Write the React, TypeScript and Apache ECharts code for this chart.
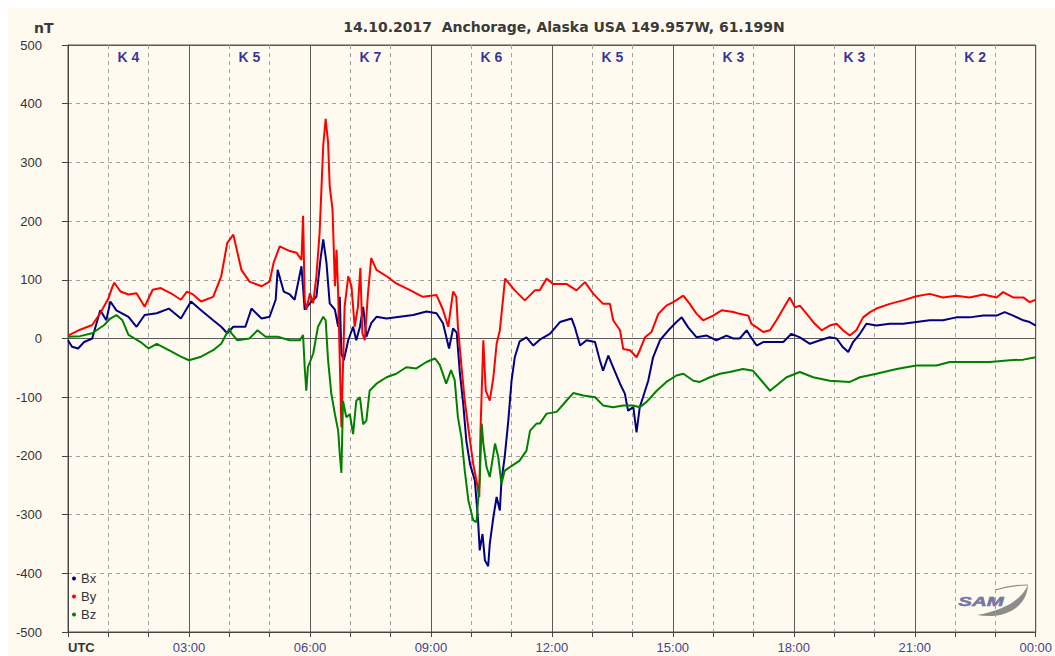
import React, { useEffect, useRef } from 'react';
import * as echarts from 'echarts';

const title = '14.10.2017  Anchorage, Alaska USA 149.957W, 61.199N';
const kHours = [1.5, 4.5, 7.5, 10.5, 13.5, 16.5, 19.5, 22.5];
const kIndex = [4, 5, 7, 6, 5, 3, 3, 2];
const xTickLabels: Record<number, string> = {
  0: 'UTC', 3: '03:00', 6: '06:00', 9: '09:00', 12: '12:00', 15: '15:00', 18: '18:00', 21: '21:00', 24: '00:00',
};

// [hour UTC, nT]
const bx: [number, number][] = [
  [0, -3], [0.1, -14], [0.25, -17], [0.4, -6], [0.6, 0], [0.8, 48], [0.95, 31], [1.05, 63], [1.2, 48],
  [1.5, 37], [1.7, 20], [1.9, 40], [2.2, 43], [2.5, 51], [2.8, 34], [3.05, 63], [3.3, 48], [3.6, 31],
  [3.8, 20], [3.95, 9], [4.1, 20], [4.4, 20], [4.55, 51], [4.8, 34], [5.0, 37], [5.15, 66], [5.2, 117],
  [5.35, 80], [5.5, 75], [5.62, 66], [5.79, 123], [5.87, 49], [6.0, 60], [6.16, 71], [6.26, 134],
  [6.33, 169], [6.41, 129], [6.49, 60], [6.62, 49], [6.7, 20], [6.74, 71], [6.78, -26], [6.84, -37],
  [6.95, -3], [7.07, 20], [7.15, -3], [7.24, 20], [7.32, 54], [7.4, 3], [7.52, 26], [7.65, 37],
  [7.9, 34], [8.23, 37], [8.56, 40], [8.89, 46], [9.14, 43], [9.3, 26], [9.45, -17], [9.55, 17],
  [9.64, 10], [9.72, -60], [9.8, -110], [9.88, -175], [9.97, -214], [10.09, -242], [10.17, -310],
  [10.21, -361], [10.28, -333], [10.34, -378], [10.42, -388], [10.46, -350], [10.55, -304],
  [10.63, -270], [10.71, -293], [10.75, -242], [10.83, -202], [10.92, -140], [11.0, -72], [11.08, -32],
  [11.2, -5], [11.37, 2], [11.54, -12], [11.7, -2], [11.95, 8], [12.2, 28], [12.49, 34], [12.57, 19],
  [12.7, -12], [12.86, -3], [13.07, -6], [13.19, -37], [13.27, -55], [13.4, -29], [13.52, -49],
  [13.69, -77], [13.81, -94], [13.89, -123], [14.02, -117], [14.1, -160], [14.18, -117], [14.26, -100],
  [14.39, -72], [14.51, -32], [14.68, -3], [14.89, 14], [15.09, 28], [15.22, 36], [15.38, 19],
  [15.59, 2], [15.84, 5], [16.08, -3], [16.33, 5], [16.5, 0], [16.66, 0], [16.83, 14], [16.91, 5],
  [17.08, -12], [17.24, -6], [17.49, -6], [17.74, -6], [17.94, 8], [18.15, 2], [18.4, -9], [18.65, -3],
  [18.89, 2], [19.06, 0], [19.22, -15], [19.35, -23], [19.47, -6], [19.64, 8], [19.8, 25], [20.05, 22],
  [20.38, 25], [20.71, 25], [21.04, 28], [21.37, 31], [21.7, 31], [22.03, 36], [22.36, 36], [22.7, 39],
  [23.03, 39], [23.23, 45], [23.44, 39], [23.69, 31], [23.85, 28], [24, 22],
];

const by: [number, number][] = [
  [0, 5], [0.3, 15], [0.6, 23], [0.8, 43], [1.0, 68], [1.1, 88], [1.15, 95], [1.3, 80], [1.5, 75],
  [1.7, 77], [1.9, 54], [2.1, 83], [2.3, 86], [2.6, 75], [2.8, 66], [2.95, 80], [3.1, 75], [3.3, 63],
  [3.6, 71], [3.8, 106], [3.95, 163], [4.1, 177], [4.3, 117], [4.5, 97], [4.8, 89], [5.0, 97],
  [5.1, 129], [5.25, 157], [5.5, 149], [5.67, 146], [5.79, 134], [5.83, 209], [5.87, 66], [5.91, 49],
  [6.0, 77], [6.08, 60], [6.16, 106], [6.24, 180], [6.33, 329], [6.39, 374], [6.45, 334], [6.49, 260],
  [6.56, 220], [6.62, 89], [6.66, 151], [6.7, 77], [6.74, -37], [6.78, -151], [6.86, 54], [6.95, 106],
  [7.03, 89], [7.11, 20], [7.19, 54], [7.25, 120], [7.3, 9], [7.36, -3], [7.44, 77], [7.52, 137],
  [7.65, 117], [7.9, 106], [8.14, 94], [8.47, 83], [8.8, 71], [9.14, 74], [9.3, 49], [9.43, 20],
  [9.55, 80], [9.63, 71], [9.67, 20], [9.76, -49], [9.84, -106], [9.97, -174], [10.05, -214],
  [10.13, -242], [10.2, -270], [10.23, -157], [10.3, -3], [10.36, -89], [10.46, -106], [10.55, -66],
  [10.63, -9], [10.71, 14], [10.84, 102], [11.08, 82], [11.33, 65], [11.58, 82], [11.7, 82],
  [11.87, 102], [12.03, 93], [12.36, 93], [12.61, 82], [12.82, 96], [13.03, 76], [13.27, 59],
  [13.44, 59], [13.52, 31], [13.69, 14], [13.77, -18], [13.94, -20], [14.1, -32], [14.18, -20],
  [14.31, 2], [14.47, 11], [14.64, 42], [14.84, 56], [15.01, 62], [15.26, 73], [15.42, 59], [15.59, 42],
  [15.75, 31], [16.0, 39], [16.21, 48], [16.5, 45], [16.66, 42], [16.87, 39], [16.95, 25], [17.08, 19],
  [17.24, 11], [17.41, 14], [17.57, 31], [17.74, 51], [17.9, 70], [18.03, 53], [18.15, 56], [18.32, 42],
  [18.52, 25], [18.69, 14], [18.89, 22], [19.06, 25], [19.22, 14], [19.39, 5], [19.55, 14], [19.72, 36],
  [19.89, 45], [20.05, 51], [20.38, 59], [20.71, 65], [21.04, 72], [21.37, 76], [21.7, 70], [22.03, 73],
  [22.36, 70], [22.7, 75], [23.03, 70], [23.19, 79], [23.44, 70], [23.69, 70], [23.85, 62], [24, 66],
];

const bz: [number, number][] = [
  [0, 3], [0.3, 4], [0.6, 9], [0.9, 23], [1.05, 34], [1.2, 40], [1.35, 31], [1.5, 6], [1.8, -6],
  [2.0, -17], [2.2, -9], [2.5, -20], [2.8, -31], [3.0, -37], [3.3, -31], [3.6, -20], [3.8, -9],
  [4.0, 17], [4.05, 9], [4.2, -3], [4.5, 0], [4.7, 14], [4.9, 3], [5.2, 3], [5.5, -3], [5.75, -3],
  [5.83, 6], [5.87, -49], [5.91, -89], [5.95, -49], [6.08, -26], [6.2, 20], [6.33, 37], [6.39, 31],
  [6.45, -37], [6.53, -94], [6.62, -129], [6.7, -157], [6.74, -197], [6.78, -229], [6.82, -106],
  [6.9, -134], [6.99, -129], [7.07, -163], [7.15, -106], [7.24, -100], [7.32, -146], [7.4, -140],
  [7.48, -89], [7.65, -77], [7.9, -66], [8.14, -60], [8.39, -49], [8.64, -51], [8.89, -40], [9.1, -34],
  [9.22, -45], [9.38, -77], [9.5, -54], [9.59, -71], [9.67, -134], [9.76, -170], [9.84, -225],
  [9.93, -276], [10.05, -310], [10.13, -313], [10.21, -242], [10.26, -145], [10.3, -179], [10.38, -219],
  [10.46, -236], [10.59, -179], [10.67, -202], [10.75, -248], [10.83, -225], [10.96, -219], [11.2, -208],
  [11.37, -191], [11.46, -157], [11.62, -145], [11.7, -145], [11.87, -128], [12.12, -125], [12.36, -106],
  [12.53, -93], [12.78, -97], [13.07, -100], [13.27, -114], [13.52, -117], [13.77, -114], [14.02, -114],
  [14.18, -117], [14.35, -108], [14.6, -89], [14.84, -74], [15.09, -63], [15.26, -60], [15.51, -72],
  [15.67, -74], [15.92, -66], [16.17, -60], [16.41, -57], [16.74, -52], [16.99, -55], [17.2, -72],
  [17.41, -89], [17.57, -80], [17.82, -66], [18.15, -57], [18.48, -66], [18.89, -72], [19.39, -74],
  [19.64, -66], [20.05, -60], [20.55, -52], [21.04, -46], [21.54, -46], [21.87, -40], [22.36, -40],
  [22.86, -40], [23.36, -37], [23.69, -36], [24, -32],
];

const FONT = '"Liberation Sans", Arial, sans-serif';
const TITLE_FONT = '"DejaVu Sans", Verdana, sans-serif';

let shapesRegistered = false;
function registerShapes() {
  if (shapesRegistered) return;
  shapesRegistered = true;
  echarts.graphic.registerShape(
    'samSwoosh',
    echarts.graphic.extendPath('M2 33 C30 38 52 25 53 3 C46 18 30 28 2 33 Z', {}) as any
  );
  echarts.graphic.registerShape(
    'samTail',
    echarts.graphic.extendPath('M53 3 C42 3 30 5 20 8', {}) as any
  );
}

export default function App() {
  const ref = useRef<HTMLDivElement>(null);

  useEffect(() => {
    if (!ref.current) return;
    registerShapes();
    const chart = echarts.init(ref.current, undefined, { renderer: 'svg' });
    const lineSeries = (name: string, data: [number, number][], color: string) => ({
      name,
      type: 'line',
      data,
      symbol: 'none',
      showSymbol: false,
      color,
      lineStyle: { color, width: 2 },
      xAxisIndex: 0,
      yAxisIndex: 0,
      z: 3,
    });
    chart.setOption({
      animation: false,
      backgroundColor: '#FFFAF0',
      textStyle: { fontFamily: FONT },
      title: [
        {
          text: title,
          left: 551,
          top: 7,
          textAlign: 'center',
          textStyle: { fontSize: 14, fontWeight: 'bold', color: '#3a3a3a', fontFamily: TITLE_FONT },
        },
        {
          text: 'nT',
          left: 21,
          top: 8,
          textStyle: { fontSize: 14, fontWeight: 'bold', color: '#3a3a3a', fontFamily: TITLE_FONT },
        },
      ],
      legend: {
        data: ['Bx', 'By', 'Bz'],
        orient: 'vertical',
        left: 64,
        top: 564,
        padding: 0,
        itemGap: 5,
        itemWidth: 4,
        itemHeight: 4,
        icon: 'circle',
        textStyle: { fontSize: 13, color: '#333', fontFamily: FONT },
      },
      grid: {
        left: 60,
        top: 37,
        right: 18,
        bottom: 24,
        show: true,
        borderColor: '#555',
        borderWidth: 1,
        backgroundColor: 'transparent',
      },
      xAxis: [
        {
          type: 'value',
          min: 0,
          max: 24,
          interval: 1,
          axisLine: { show: true, onZero: false, lineStyle: { color: '#444', width: 1 } },
          axisTick: { show: true, inside: false, length: 5, lineStyle: { color: '#444' } },
          splitLine: { show: true, lineStyle: { color: '#a0a0a0', type: [4, 4], width: 1 } },
          axisLabel: {
            margin: 9,
            fontSize: 13,
            color: '#45458a',
            fontFamily: FONT,
            alignMinLabel: 'left',
            formatter: (v: number) => {
              if (v === 0) return '{u|UTC}';
              return xTickLabels[v] ?? '';
            },
            rich: { u: { fontWeight: 'bold', color: '#333', fontSize: 13, fontFamily: FONT } },
          },
        },
        {
          type: 'value',
          min: 0,
          max: 24,
          interval: 3,
          position: 'bottom',
          axisLine: { show: false },
          axisTick: { show: false },
          axisLabel: { show: false },
          splitLine: { show: true, lineStyle: { color: '#5a5a5a', type: 'solid', width: 1 } },
        },
      ],
      yAxis: [
        {
          type: 'value',
          min: -500,
          max: 500,
          interval: 100,
          axisLine: { show: true, lineStyle: { color: '#444', width: 1 } },
          axisTick: { show: true, inside: false, length: 6, lineStyle: { color: '#444' } },
          splitLine: { show: true, lineStyle: { color: '#a0a0a0', type: [4, 4], width: 1 } },
          axisLabel: { margin: 26, fontSize: 13, color: '#333', fontFamily: FONT },
        },
        {
          type: 'value',
          min: -500,
          max: 500,
          interval: 500,
          position: 'left',
          axisLine: { show: false },
          axisTick: { show: false },
          axisLabel: { show: false },
          splitLine: { show: true, lineStyle: { color: '#5a5a5a', type: 'solid', width: 1 } },
        },
      ],
      series: [
        lineSeries('Bx', bx, '#000080'),
        lineSeries('By', by, '#FF0000'),
        lineSeries('Bz', bz, '#008000'),
        {
          name: 'K',
          type: 'scatter',
          xAxisIndex: 0,
          yAxisIndex: 0,
          symbolSize: 0,
          data: kHours.map((h, i) => [h, 479, kIndex[i]]),
          label: {
            show: true,
            position: 'inside',
            formatter: (p: any) => 'K ' + p.data[2],
            fontSize: 14,
            fontWeight: 'bold',
            color: '#000080',
            fontFamily: FONT,
          },
          silent: true,
          z: 4,
        },
      ],
      graphic: [
        {
          type: 'samSwoosh',
          x: 967,
          y: 574,
          style: { fill: '#8c8c8c' },
          silent: true,
        },
        {
          type: 'samTail',
          x: 967,
          y: 574,
          style: { fill: 'none', stroke: '#8c8c8c', lineWidth: 1.2 },
          silent: true,
        },
        {
          type: 'text',
          x: 973,
          y: 594,
          scaleX: 1.7,
          silent: true,
          style: {
            text: 'SAM',
            font: 'italic bold 12px "Liberation Sans", Arial, sans-serif',
            fill: '#7777a6',
            stroke: '#50508a',
            lineWidth: 0.4,
            align: 'center',
            verticalAlign: 'middle',
          },
        },
      ],
    });
    return () => chart.dispose();
  }, []);

  return (
    <div
      ref={ref}
      style={{ position: 'absolute', left: 8, top: 8, width: 1047, height: 648 }}
    />
  );
}
